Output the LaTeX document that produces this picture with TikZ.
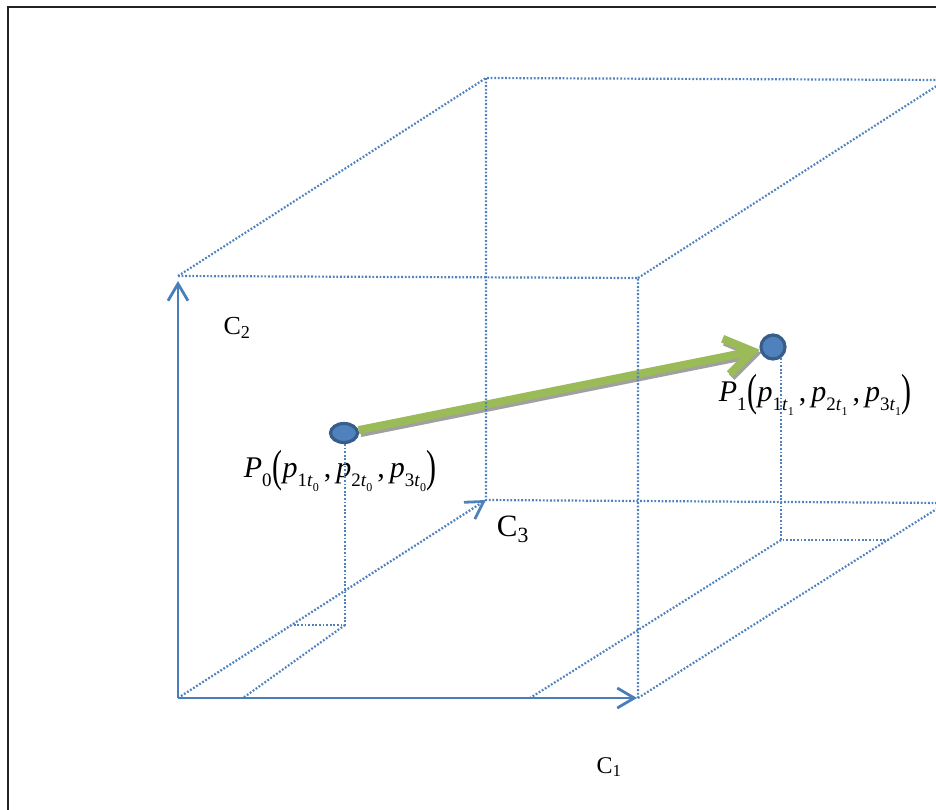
\documentclass[tikz,border=0pt]{standalone}
\usepackage{fontspec}
\setmainfont{Liberation Serif}
\usepackage{graphicx}
\usetikzlibrary{arrows.meta,shapes.geometric,backgrounds}
\definecolor{axisblue}{HTML}{4A7EBB}
\definecolor{dotblue}{HTML}{4F81BD}
\definecolor{dotrim}{HTML}{385D8A}
\definecolor{arrowgreen}{HTML}{9BBB59}
\definecolor{shadowgray}{HTML}{A0A0A0}
\definecolor{framegray}{HTML}{222222}
\newcommand{\lo}[1]{\raisebox{-0.3em}{\fontsize{19}{19}\selectfont #1}}
\newcommand{\lolo}[1]{\raisebox{-0.25em}{\fontsize{12}{12}\selectfont #1}}
\newcommand{\bigpar}[1]{\raisebox{-0.12em}{\scalebox{1}[1.5]{#1}}}
\newcommand{\pterm}[2]{\textit{p}\lo{#1\textit{t}\lolo{#2}}}
\newcommand{\pformula}[1]{{\fontsize{30}{33}\selectfont\textit{P}\lo{#1}\kern1pt\bigpar{(}\pterm{1}{#1}\,,\,\pterm{2}{#1}\,,\,\pterm{3}{#1}\bigpar{)}}}
\begin{document}
\begin{tikzpicture}[x=1pt,y=-1pt,
  dotted edge/.style={dotblue, line width=2.2pt, dash pattern=on 1.8pt off 1.8pt},
  axis/.style={axisblue, line width=2.8pt, -{Straight Barb[length=17pt,width=20pt]}},
  dotaxis/.style={dotblue, line width=2.3pt, dash pattern=on 1.8pt off 1.8pt, -{Straight Barb[length=17pt,width=20pt,line width=2.8pt]}},
  pt/.style={fill=dotblue, draw=dotrim, line width=3.2pt, inner sep=0pt},
  greenarrow/.style={arrowgreen, line width=8pt, -{Straight Barb[length=27pt,width=36pt]}},
  shadowarrow/.style={shadowgray, line width=8pt, -{Straight Barb[length=27pt,width=36pt]}},
  lbl/.style={inner sep=0pt, text=black},
  frame/.style={framegray, line width=2.6pt}]
\useasboundingbox (0,0) rectangle (936,809);
\clip (0,0) rectangle (936,809);
% box corners
\coordinate (O) at (178,698);
\coordinate (FTL) at (178,276);
\coordinate (C2tip) at (178,281);
\coordinate (FTR) at (638,278);
\coordinate (FBR) at (638,698);
\coordinate (C1tip) at (637,698);
\coordinate (BTL) at (486,78);
\coordinate (BTR) at (946,80);
\coordinate (BBL) at (486,500);
\coordinate (BBR) at (946,503);
% projection points
\coordinate (P0top) at (345,444);
\coordinate (P0foot) at (345,625);
\coordinate (P0c3) at (292,625);
\coordinate (P0c1) at (243,698);
\coordinate (P1top) at (781,358);
\coordinate (P1foot) at (781,540);
\coordinate (P1side) at (890,540);
\coordinate (P1c1) at (530,698);
% points
\node[pt, ellipse, minimum width=27pt, minimum height=19pt] (P0) at (344,433) {};
\node[pt, circle, minimum size=24pt] (P1) at (773,347) {};
\begin{scope}[on background layer]
  \draw[frame] (8,7) rectangle (990,860);
  \draw[shadowarrow, transform canvas={shift={(2pt,-3pt)}}] (P0) -- (P1);
  \draw[greenarrow] (P0) -- (P1);
\end{scope}
% formulas
\node[lbl] (f0) at (340,471) {\pformula{0}};
\node[lbl] (f1) at (815,395) {\pformula{1}};
% dotted box edges
\draw[dotted edge] (FTL) -- (FTR) -- (FBR);
\draw[dotted edge] (FTL) -- (BTL) -- (BTR);
\draw[dotted edge] (FTR) -- (BTR);
\draw[dotted edge] (BTL) -- (BBL) -- (BBR);
\draw[dotted edge] (FBR) -- (BBR);
% projections
\draw[dotted edge] (P0top) -- (P0foot) -- (P0c3);
\draw[dotted edge] (P0foot) -- (P0c1);
\draw[dotted edge] (P1top) -- (P1foot) -- (P1side);
\draw[dotted edge] (P1foot) -- (P1c1);
% axes
\draw[dotaxis] (O) -- (BBL);
\draw[axis] (O) -- (C2tip);
\draw[axis] (O) -- (C1tip);
% labels
\node[lbl] (c2) at (237,328) {\fontsize{26}{29}\selectfont C\textsubscript{2}};
\node[lbl] (c3) at (513,529) {\fontsize{31}{34}\selectfont C\textsubscript{3}};
\node[lbl] (c1) at (609,767) {\fontsize{24}{27}\selectfont C\textsubscript{1}};
\end{tikzpicture}
\end{document}
